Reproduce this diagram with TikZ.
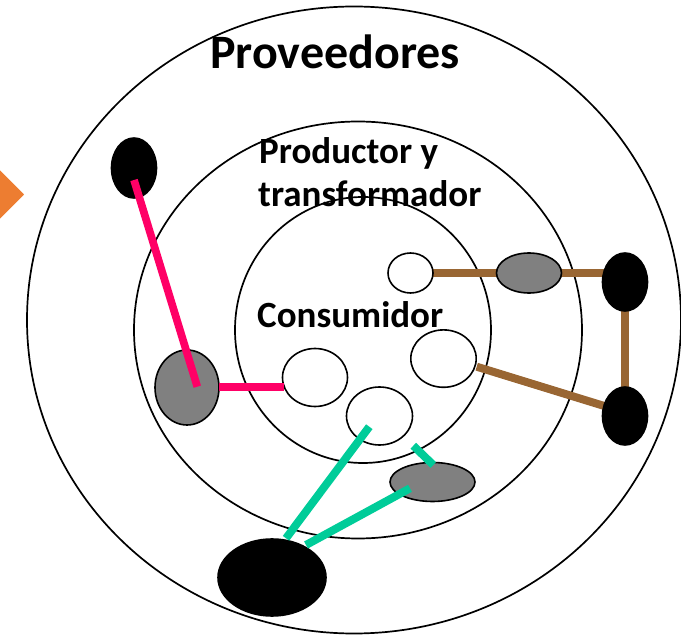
\documentclass[tikz,border=0pt]{standalone}
\usepackage{fontspec}
\setmainfont{Carlito}
\usetikzlibrary{shapes.geometric}
\definecolor{pinkc}{HTML}{FF0066}
\definecolor{brownc}{HTML}{996633}
\definecolor{greenc}{HTML}{00CC99}
\definecolor{grayc}{HTML}{808080}
\definecolor{orangec}{HTML}{ED7D31}
\begin{document}
\begin{tikzpicture}[x=1pt,y=-1pt,
  ring/.style={ellipse,draw=black,line width=1.7pt,inner sep=0pt,outer sep=0pt},
  blob/.style 2 args={ellipse,draw=black,line width=1.6pt,inner sep=0pt,outer sep=0pt,minimum width=#1pt,minimum height=#2pt},
  whiteblob/.style={fill=white},
  grayblob/.style={fill=grayc},
  blackblob/.style={fill=black},
  lbl/.style={inner sep=0pt,anchor=base west,font=\bfseries\fontsize{37}{44}\selectfont},
  pinkline/.style={draw=pinkc,line width=7.7pt},
  brownline/.style={draw=brownc,line width=8pt},
  greenline/.style={draw=greenc,line width=8pt}
]
\useasboundingbox (0,0) rectangle (681,636);
% arrow tip on the left edge
\fill[orangec] (-30,140) -- (24,194.5) -- (-30,249) -- cycle;
% rings
\node[ring,minimum width=654pt,minimum height=627pt] (outer) at (354,320) {};
\node[ring,minimum width=448pt,minimum height=417pt] (middle) at (358,330) {};
\node[ring,minimum width=256pt,minimum height=266pt] (inner) at (363,330) {};
% labels
\node[lbl,font=\bfseries\fontsize{48}{58}\selectfont] (tprov) at (210,68.3) {Proveedores};
\node[lbl] (tprod) at (259,163.3) {Productor y};
\node[lbl] (ttrans) at (258,206.7) {transformador};
\node[lbl] (tcons) at (257,327.3) {Consumidor};
% connector end points
\coordinate (b1) at (433,273.3);
\coordinate (b2) at (625,273.3);
\coordinate (b3) at (476.7,366.7);
\coordinate (b4) at (615,409.3);
% brown connectors (below the blobs)
\path[brownline] (b1) -- (b2);
\path[brownline] (625,282) coordinate (btrc) -- (625,416) coordinate (bbrc);
\path[brownline] (b3) -- (b4);
% blobs
\node[blob={45}{60},blackblob] (bTL) at (134,168) {};
\node[blob={64}{75},grayblob] (gL) at (187,387.5) {};
\node[blob={65}{58},whiteblob] (wA) at (315,377.5) {};
\node[blob={66}{58},whiteblob] (wB) at (379.5,416) {};
\node[blob={65.4}{57.4},whiteblob] (wC) at (443.5,358.6) {};
\node[blob={45}{40},whiteblob] (wS) at (410.5,273) {};
\node[blob={65}{40},grayblob] (gR) at (529,273) {};
\node[blob={45}{58},blackblob] (bTR) at (625,282) {};
\node[blob={45}{58},blackblob] (bBR) at (625,416) {};
\node[blob={85}{39},grayblob] (gB) at (432.5,482) {};
\node[blob={108}{77},blackblob] (bB) at (272,577.5) {};
% pink connectors
\coordinate (p1) at (134,180);
\coordinate (p2) at (197.3,386.7);
\coordinate (p3) at (219,387.2);
\coordinate (p4) at (284.2,387.2);
\path[pinkline] (p1) -- (p2);
\path[pinkline] (p3) -- (p4);
% green connectors
\coordinate (g1) at (369.3,426.7);
\coordinate (g2) at (286,538.3);
\coordinate (g3) at (410,488.3);
\coordinate (g4) at (306,545);
\coordinate (g5) at (413.3,445.7);
\coordinate (g6) at (433.3,465);
\path[greenline] (g1) -- (g2);
\path[greenline] (g3) -- (g4);
\path[greenline] (g5) -- (g6);
\end{tikzpicture}
\end{document}
